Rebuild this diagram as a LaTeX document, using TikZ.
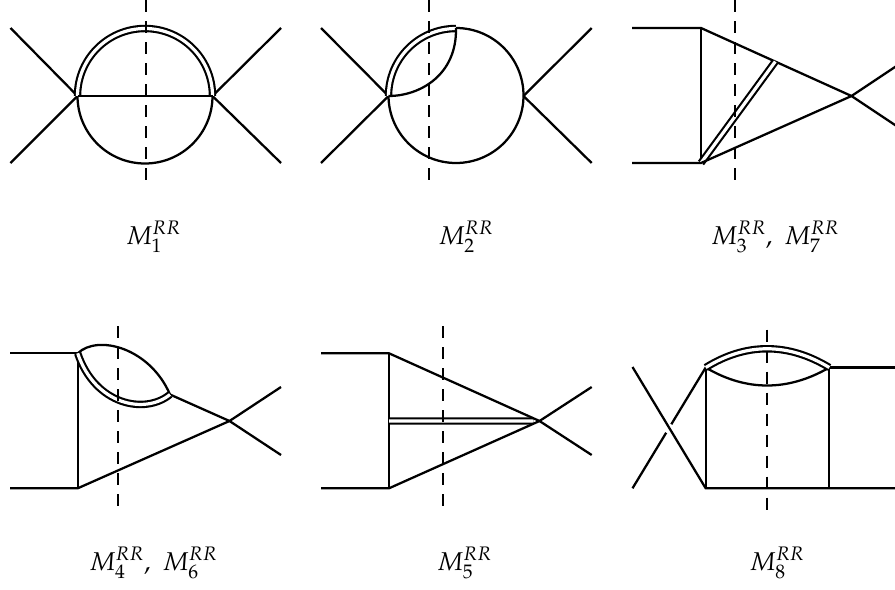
\documentclass[tikz,border=0pt]{standalone}
\usepackage{amsmath}
\usepackage{mathpazo}
\usetikzlibrary{positioning,calc}

\begin{document}
\begin{tikzpicture}[
  x=0.75pt, y=-0.75pt,
  lin/.style={line width=1.7pt},
  dbl/.style={line width=1.6pt, double, double distance=2.4pt},
  cutline/.style={line width=1.7pt, dash pattern=on 9pt off 6.75pt},
  lbl/.style={font=\fontsize{19.3}{23}\selectfont, inner sep=0pt, anchor=base},
]
\clip (0,0) rectangle (895,589);

% Top and bottom ends of the cuts
\foreach \n/\cx/\ya/\yb in {1/145.7/0/180,2/429.3/0/180,3/735/0/180,
                            4/118.3/326/506,5/442.7/326/506,6/767.3/329.5/509.5}{
  \coordinate (cut\n a) at (\cx,\ya);
  \coordinate (cut\n b) at (\cx,\yb);
}

% Diagram 1: sunrise with double upper arc
\coordinate (v1l) at (77.5,96);
\coordinate (v1r) at (212.5,96);
\foreach \p/\q in {10.5/28,10.5/163}{
  \draw[lin] (\p,\q) -- (v1l);
}
\foreach \p/\q in {281/28,281/163}{
  \draw[lin] (v1r) -- (\p,\q);
}
\draw[lin] (v1l) arc[start angle=180, end angle=0, radius=67.5];
\draw[dbl] (v1l) arc[start angle=180, end angle=360, radius=67.5];
\draw[lin] (v1l) -- (v1r);
\draw[cutline] (cut1a) -- (cut1b);

% Diagram 2: circle with a lens on the upper left
\coordinate (v2l) at (388.5,96);
\coordinate (v2r) at (523.5,96);
\coordinate (v2t) at (456,28);
\foreach \p/\q in {321/28,321/163}{
  \draw[lin] (\p,\q) -- (v2l);
}
\foreach \p/\q in {591.7/28,591.7/163}{
  \draw[lin] (v2r) -- (\p,\q);
}
\draw[lin] (v2t) arc[start angle=270, end angle=540, radius=67.5];
\draw[dbl] (v2l) arc[start angle=180, end angle=270, radius=67.5];
\draw[lin] (v2l) .. controls (420,96) and (457,75) .. (v2t);
\draw[cutline] (cut2a) -- (cut2b);

% Diagram 3: triangle with a double diagonal
\coordinate (v3a) at (701,28);
\coordinate (v3b) at (701,163);
\coordinate (v3c) at (851.5,96);
\coordinate (v3d) at ($(v3a)!0.4934!(v3c)$);
\draw[lin] (632,28) -- (v3a) -- (v3c) -- (902.5,130);
\draw[lin] (v3a) -- (v3b);
\draw[dbl] (v3b) -- (v3d);
\draw[lin] (632,163) -- (v3b) -- (v3c) -- (902.5,62);
\draw[cutline] (cut3a) -- (cut3b);

% Diagram 4: triangle with a lens on its upper side
\coordinate (v4a) at (77.7,353.3);
\coordinate (v4b) at (77.7,488.3);
\coordinate (v4c) at (229.5,421);
\coordinate (v4d) at (170,394.5);
\draw[lin] (10,353.3) -- (v4a) -- (v4b);
\draw[lin] (10,488.3) -- (v4b) -- (v4c) -- (281,387);
\draw[lin] (v4d) -- (v4c) -- (281,455);
\draw[lin] (v4a) .. controls (98,334) and (150,348) .. (v4d);
\draw[dbl] (v4a) .. controls (95,405) and (145,415) .. (v4d);
\draw[cutline] (cut4a) -- (cut4b);

% Diagram 5: triangle with a double middle line
\coordinate (v5a) at (389,353.3);
\coordinate (v5b) at (389,488.3);
\coordinate (v5c) at (539.5,421);
\coordinate (v5m) at (389,421);
\draw[lin] (v5a) -- (v5b);
\draw[dbl] (v5m) -- ($(v5m)!0.96!(v5c)$);
\draw[lin] (321,353.3) -- (v5a) -- (v5c) -- (591.7,455);
\draw[lin] (321,488.3) -- (v5b) -- (v5c) -- (591.7,387);
\draw[cutline] (cut5a) -- (cut5b);

% Diagram 6: box with a lens on top and a crossed pair of legs
\coordinate (v6a) at (705.7,367.5);
\coordinate (v6b) at (829.3,367.5);
\coordinate (v6c) at (829.3,488.3);
\coordinate (v6d) at (705.7,488.3);
\coordinate (x6a) at (632.5,367);
\coordinate (x6b) at (632.5,488.3);
\draw[lin] (x6a) -- (v6d) -- (895,488.3);
\draw[lin] (x6b) -- ($(x6b)!0.46!(v6a)$);
\draw[lin] ($(x6b)!0.53!(v6a)$) -- (v6a);
\draw[lin] (v6a) -- (v6d);
\draw[lin] (v6b) -- (v6c);
\draw[lin] (v6b) -- (895,367.5);
\draw[lin] (v6a) .. controls (746,391.5) and (788,391.5) .. (v6b);
\draw[dbl] (v6a) .. controls (746,342.5) and (788,342.5) .. (v6b);
\draw[cutline] (cut6a) -- (cut6b);

% Labels
\node[lbl] (m1) at (153.4,244.3) {\(M_1^{RR}\)};
\node[lbl] (m2) at (466,244.3) {\(M_2^{RR}\)};
\node[lbl] (m3) at (775.2,244.3) {\(M_3^{RR},\ M_7^{RR}\)};
\node[lbl] (m4) at (153.3,570) {\(M_4^{RR},\ M_6^{RR}\)};
\node[lbl] (m5) at (464.5,570) {\(M_5^{RR}\)};
\node[lbl] (m6) at (777,570) {\(M_8^{RR}\)};
\end{tikzpicture}
\end{document}
